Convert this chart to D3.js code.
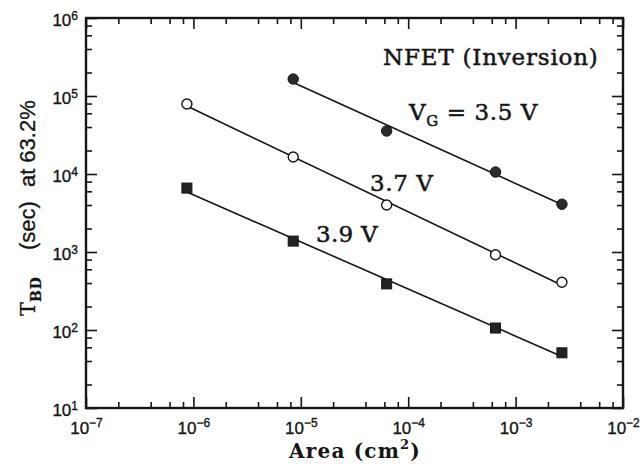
<!DOCTYPE html>
<html><head><meta charset="utf-8">
<script src="https://cdn.jsdelivr.net/npm/d3@7"></script>
<style>
html,body{margin:0;padding:0;background:#fff;}
svg{display:block;}
</style></head>
<body>
<svg id="chart" width="640" height="464"></svg>
<script>
// ---- data ----
const areas = [8.7e-7, 8.5e-6, 6.3e-5, 6.5e-4, 2.7e-3];           // cm^2
const tbd35 = [null, 1.65e5, 3.56e4, 1.06e4, 4.1e3];               // VG = 3.5 V (filled circles)
const tbd37 = [7.9e4, 1.65e4, 4.0e3, 9.2e2, 4.1e2];                // 3.7 V (open circles)
const tbd39 = [6.6e3, 1.38e3, 3.9e2, 1.06e2, 5.1e1];               // 3.9 V (filled squares)
const xMajorExp = [-7, -6, -5, -4, -3, -2];
const yMajorExp = [1, 2, 3, 4, 5, 6];
const minorMult = [2, 4, 6, 8];

const svg = d3.select("#chart");
const L = 86, R = 623, T = 18, B = 408;
const x = d3.scaleLog().domain([1e-7, 1e-2]).range([L, R]);
const y = d3.scaleLog().domain([1e1, 1e6]).range([B, T]);

const xMajor = xMajorExp.map(e => Math.pow(10, e));
const yMajor = yMajorExp.map(e => Math.pow(10, e));
const xMinor = xMajor.slice(0, -1).flatMap(v => minorMult.map(m => v * m));
const yMinor = yMajor.slice(0, -1).flatMap(v => minorMult.map(m => v * m));

const ink = "#151515";
const sans = "'Liberation Sans', Arial, sans-serif";
const serif = "'DejaVu Serif', serif";

function styleAxis(g) {
  g.select(".domain").remove();
  g.selectAll(".tick line").attr("stroke", ink).attr("stroke-width", 1.6);
}
function supLabels(g, exps) {
  g.selectAll(".tick text").each(function(d, i) {
    const t = d3.select(this);
    t.text(null).attr("font-family", sans).attr("font-size", 17).attr("fill", ink)
      .attr("stroke", ink).attr("stroke-width", 0.35);
    t.append("tspan").text("10");
    t.append("tspan").attr("font-size", 12).attr("dy", "-0.55em")
      .text(String(exps[i]).replace("-", "\u2212"));
  });
}

// bottom axis
const gB = svg.append("g").attr("transform", `translate(0,${B})`)
  .call(d3.axisBottom(x).tickValues(xMajor).tickSize(-11).tickPadding(9).tickFormat(() => ""));
styleAxis(gB); supLabels(gB, xMajorExp);
gB.selectAll(".tick text").attr("dy", "1.0em");
svg.append("g").attr("transform", `translate(0,${B})`)
  .call(d3.axisBottom(x).tickValues(xMinor).tickSize(-6).tickFormat(() => "")).call(styleAxis);
// top axis
svg.append("g").attr("transform", `translate(0,${T})`)
  .call(d3.axisTop(x).tickValues(xMajor).tickSize(-11).tickFormat(() => "")).call(styleAxis);
svg.append("g").attr("transform", `translate(0,${T})`)
  .call(d3.axisTop(x).tickValues(xMinor).tickSize(-6).tickFormat(() => "")).call(styleAxis);
// left axis
const gL = svg.append("g").attr("transform", `translate(${L},0)`)
  .call(d3.axisLeft(y).tickValues(yMajor).tickSize(-11).tickPadding(8).tickFormat(() => ""));
styleAxis(gL); supLabels(gL, yMajorExp);
gL.selectAll(".tick text").attr("dy", "0.45em");
svg.append("g").attr("transform", `translate(${L},0)`)
  .call(d3.axisLeft(y).tickValues(yMinor).tickSize(-6).tickFormat(() => "")).call(styleAxis);
// right axis
svg.append("g").attr("transform", `translate(${R},0)`)
  .call(d3.axisRight(y).tickValues(yMajor).tickSize(-11).tickFormat(() => "")).call(styleAxis);
svg.append("g").attr("transform", `translate(${R},0)`)
  .call(d3.axisRight(y).tickValues(yMinor).tickSize(-6).tickFormat(() => "")).call(styleAxis);

// frame
svg.append("rect").attr("x", L).attr("y", T).attr("width", R - L).attr("height", B - T)
  .attr("fill", "none").attr("stroke", ink).attr("stroke-width", 2.4);

// fitted lines (least squares in log-log) from first to last point
function fitLine(xs, ys) {
  const pts = xs.map((v, i) => [v, ys[i]]).filter(p => p[1] != null);
  const lx = pts.map(p => Math.log10(p[0])), ly = pts.map(p => Math.log10(p[1]));
  const mx = d3.mean(lx), my = d3.mean(ly);
  const slope = d3.sum(lx.map((v, i) => (v - mx) * (ly[i] - my))) / d3.sum(lx.map(v => (v - mx) ** 2));
  const x0 = d3.min(pts, p => p[0]), x1 = d3.max(pts, p => p[0]);
  return [x0, x1].map(v => [v, Math.pow(10, my + slope * (Math.log10(v) - mx))]);
}
const line = d3.line().x(d => x(d[0])).y(d => y(d[1]));
[tbd35, tbd37, tbd39].forEach(s => {
  svg.append("path").attr("d", line(fitLine(areas, s)))
    .attr("fill", "none").attr("stroke", ink).attr("stroke-width", 1.6);
});

// markers
const pts = (s) => areas.map((a, i) => [a, s[i]]).filter(p => p[1] != null);
svg.append("g").selectAll("circle").data(pts(tbd35)).join("circle")
  .attr("cx", d => x(d[0])).attr("cy", d => y(d[1])).attr("r", 5.2)
  .attr("fill", "#2a2a2a").attr("stroke", ink).attr("stroke-width", 1);
svg.append("g").selectAll("circle").data(pts(tbd37)).join("circle")
  .attr("cx", d => x(d[0])).attr("cy", d => y(d[1])).attr("r", 5)
  .attr("fill", "#fff").attr("stroke", ink).attr("stroke-width", 1.4);
svg.append("g").selectAll("rect").data(pts(tbd39)).join("rect")
  .attr("x", d => x(d[0]) - 5).attr("y", d => y(d[1]) - 5).attr("width", 10).attr("height", 10)
  .attr("fill", "#222").attr("stroke", ink).attr("stroke-width", 1);

// annotations
function ann(xp, yp, size, ls) {
  return svg.append("text").attr("x", xp).attr("y", yp).attr("font-family", serif)
    .attr("font-size", size).attr("letter-spacing", ls).attr("fill", ink)
    .attr("stroke", ink).attr("stroke-width", 0.5);
}
ann(383, 65, 23, 0.8).text("NFET (Inversion)");
const vg = ann(409, 120, 23, 0.6);
vg.append("tspan").text("V");
vg.append("tspan").attr("font-size", 15).attr("dy", 6).text("G");
vg.append("tspan").attr("dy", -6).text(" = 3.5 V");
ann(370, 191, 23, 0.6).text("3.7 V");
ann(316, 242, 23, 0.3).text("3.9 V");

// x axis title
const xt = svg.append("text").attr("x", 289).attr("y", 458).attr("font-family", serif)
  .attr("font-size", 20).attr("font-weight", "bold").attr("letter-spacing", 1.2).attr("fill", ink);
xt.append("tspan").text("Area (cm");
xt.append("tspan").attr("font-size", 13).attr("dy", -9).text("2");
xt.append("tspan").attr("dy", 9).text(")");

// y axis title
const yt = svg.append("text").attr("transform", "translate(35,316) rotate(-90)")
  .attr("fill", ink).attr("font-family", sans).attr("font-size", 22)
  .attr("stroke", ink).attr("stroke-width", 0.3);
yt.append("tspan").attr("font-family", serif).attr("font-size", 21).text("T");
yt.append("tspan").attr("font-family", serif).attr("font-size", 14).attr("font-weight", "bold")
  .attr("letter-spacing", 1).attr("dy", 6).text("BD");
yt.append("tspan").attr("dy", -6).attr("dx", 26).text("(sec)");
yt.append("tspan").attr("dx", 14).text("at 63.2%");
</script>
</body></html>
